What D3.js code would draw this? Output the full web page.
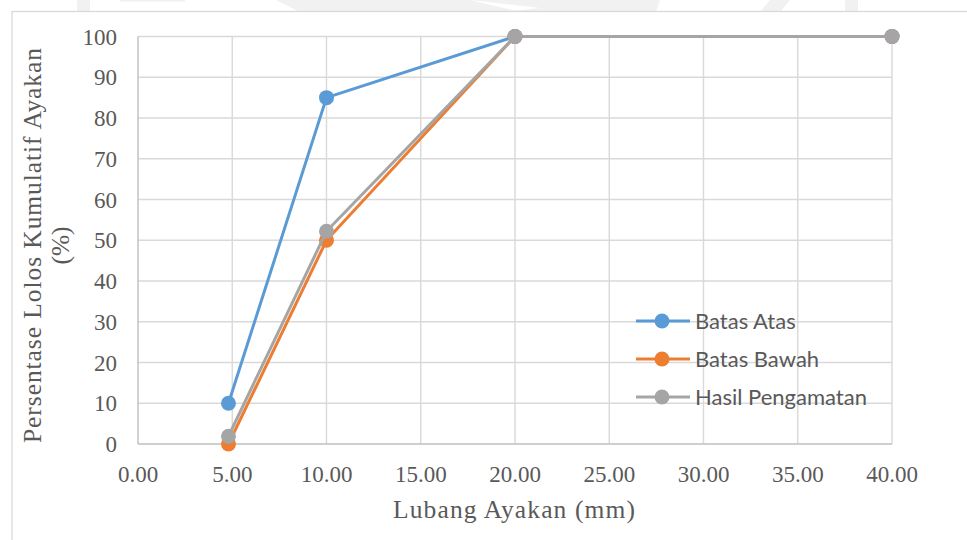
<!DOCTYPE html>
<html>
<head>
<meta charset="utf-8">
<script src="https://cdn.jsdelivr.net/npm/d3@7"></script>
<style>
  html, body { margin: 0; padding: 0; background: #fff; }
  svg { display: block; }
</style>
</head>
<body>
<svg id="chart" width="967" height="540"></svg>
<script>
// Sieve sizes (mm) and cumulative passing percentages
const sieveSizes = [4.8, 10, 20, 40];
const batasAtas = [10, 85, 100, 100];
const batasBawah = [0, 50, 100, 100];
const hasilPengamatan = [1.9, 52.2, 100, 100];

const seriesNames = ["Batas Atas", "Batas Bawah", "Hasil Pengamatan"];
const seriesColors = ["#5B9BD5", "#ED7D31", "#A5A5A5"];

const xTicks = [0, 5, 10, 15, 20, 25, 30, 35, 40];
const yTicks = [0, 10, 20, 30, 40, 50, 60, 70, 80, 90, 100];

const xTitle = "Lubang Ayakan (mm)";
const yTitleLines = ["Persentase Lolos Kumulatif Ayakan", "(%)"];

const svg = d3.select("#chart");
const W = 967, H = 540;
const plot = { left: 138, right: 892, top: 36.5, bottom: 444 };

// faint background emblem strip above the chart frame
const wm = svg.append("g").attr("fill", "#f1f1f1");
wm.append("rect").attr("x", 77).attr("y", 0).attr("width", 13).attr("height", 12);
wm.append("rect").attr("x", 120).attr("y", 0).attr("width", 65).attr("height", 1.5);
wm.append("polygon").attr("points", "276,0 470,0 520,12 300,12");
wm.append("polygon").attr("points", "470,0 660,0 656,12 500,12 540,8");
wm.append("polygon").attr("points", "770,0 790,0 780,12 760,12");
wm.append("rect").attr("x", 845).attr("y", 0).attr("width", 13).attr("height", 12);

// chart frame
svg.append("rect")
  .attr("x", 12).attr("y", 11.5)
  .attr("width", W + 20).attr("height", H + 20)
  .attr("fill", "#fff")
  .attr("stroke", "#d9d9d9").attr("stroke-width", 1.3);

const x = d3.scaleLinear().domain([0, 40]).range([plot.left, plot.right]);
const y = d3.scaleLinear().domain([0, 100]).range([plot.bottom, plot.top]);

// gridlines
const grid = svg.append("g").attr("stroke", "#d9d9d9").attr("stroke-width", 1.4);
grid.selectAll("line.h").data(yTicks.filter(d => d > 0)).join("line")
  .attr("x1", plot.left).attr("x2", plot.right)
  .attr("y1", d => y(d)).attr("y2", d => y(d));
grid.selectAll("line.v").data(xTicks.filter(d => d > 0)).join("line")
  .attr("x1", d => x(d)).attr("x2", d => x(d))
  .attr("y1", plot.top).attr("y2", plot.bottom);

// axis lines
const axes = svg.append("g").attr("stroke", "#bfbfbf").attr("stroke-width", 1.4);
axes.append("line").attr("x1", plot.left).attr("x2", plot.left).attr("y1", plot.top).attr("y2", plot.bottom);
axes.append("line").attr("x1", plot.left).attr("x2", plot.right).attr("y1", plot.bottom).attr("y2", plot.bottom);

const serif = "'Liberation Serif', 'Times New Roman', serif";

// tick labels
svg.append("g").selectAll("text").data(yTicks).join("text")
  .attr("x", 117).attr("y", d => y(d)).attr("dy", "0.35em")
  .attr("text-anchor", "end")
  .attr("font-family", serif).attr("font-size", 23).attr("fill", "#595959")
  .text(d => d);
svg.append("g").selectAll("text").data(xTicks).join("text")
  .attr("x", d => x(d)).attr("y", 482)
  .attr("text-anchor", "middle")
  .attr("font-family", serif).attr("font-size", 23).attr("fill", "#595959")
  .text(d => d3.format(".2f")(d));

// axis titles
svg.append("text")
  .attr("x", 514).attr("y", 518)
  .attr("text-anchor", "middle")
  .attr("font-family", serif).attr("font-size", 25.5).attr("fill", "#595959")
  .attr("textLength", 242).attr("lengthAdjust", "spacing")
  .text(xTitle);
const yt = svg.append("text")
  .attr("transform", "translate(41,245.5) rotate(-90)")
  .attr("text-anchor", "middle")
  .attr("font-family", serif).attr("font-size", 25.5).attr("fill", "#595959");
yt.append("tspan").attr("x", 0).attr("dy", 0)
  .attr("textLength", 395).attr("lengthAdjust", "spacing")
  .text(yTitleLines[0]);
yt.append("tspan").attr("x", 0).attr("dy", 28).text(yTitleLines[1]);

// series
const allSeries = [batasAtas, batasBawah, hasilPengamatan];
const line = d3.line().x((d, i) => x(sieveSizes[i])).y(d => y(d));
allSeries.forEach((vals, s) => {
  const g = svg.append("g");
  g.append("path").datum(vals)
    .attr("d", line)
    .attr("fill", "none")
    .attr("stroke", seriesColors[s]).attr("stroke-width", 3)
    .attr("stroke-linejoin", "round");
  g.selectAll("circle").data(vals).join("circle")
    .attr("cx", (d, i) => x(sieveSizes[i])).attr("cy", d => y(d))
    .attr("r", 7.5).attr("fill", seriesColors[s]);
});

// legend
const legend = svg.append("g");
seriesNames.forEach((name, i) => {
  const ly = 321 + i * 38;
  legend.append("line")
    .attr("x1", 636).attr("x2", 690).attr("y1", ly).attr("y2", ly)
    .attr("stroke", seriesColors[i]).attr("stroke-width", 3);
  legend.append("circle").attr("cx", 662).attr("cy", ly).attr("r", 7.5).attr("fill", seriesColors[i]);
  legend.append("text")
    .attr("x", 695).attr("y", ly).attr("dy", "0.36em")
    .attr("font-family", "Lato, 'Open Sans', sans-serif").attr("font-size", 22).attr("fill", "#595959")
    .text(name);
});
</script>
</body>
</html>
